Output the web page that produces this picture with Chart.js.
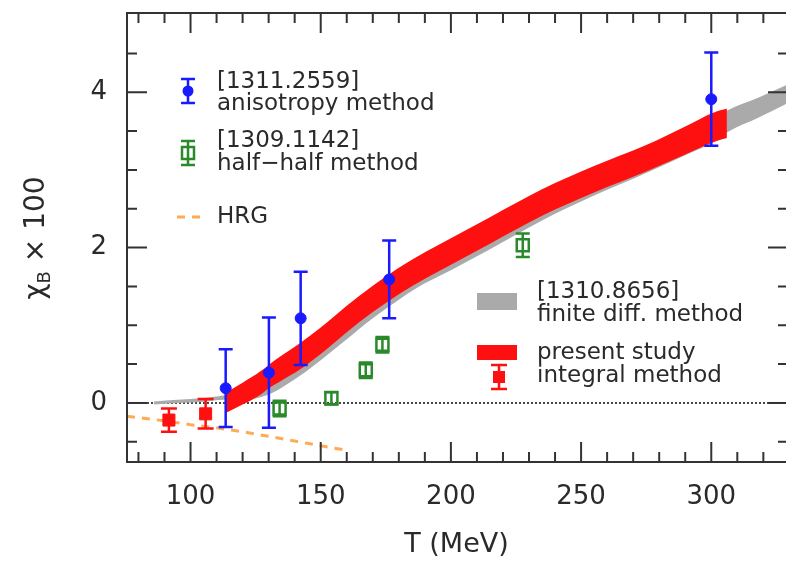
<!DOCTYPE html>
<html>
<head>
<meta charset="utf-8">
<script src="https://cdn.jsdelivr.net/npm/chart.js@4.4.0/dist/chart.umd.min.js"></script>
<style>
  html, body { margin: 0; padding: 0; background: #fff; }
  canvas { display: block; }
</style>
</head>
<body>
<canvas id="chiChart" width="786" height="566"></canvas>
<script>
// axis ranges and ticks
const xRange = [75.6, 328.7];
const yRange = [-0.76, 5.02];
const xMajorTicks = [100, 150, 200, 250, 300];
const yMajorTicks = [0, 2, 4];
const xMinorStep = 10;
const yMinorStep = 0.5;

// [1311.2559] anisotropy method
const anisoT = [113.5, 130.1, 142.3, 176.3, 300];
const anisoY = [0.19, 0.39, 1.09, 1.59, 3.91];
const anisoErr = [0.5, 0.71, 0.6, 0.5, 0.6];

// [1309.1142] half-half method
const halfT = [134.2, 154.1, 167.3, 173.7, 227.6];
const halfY = [-0.07, 0.06, 0.42, 0.75, 2.03];
const halfErr = [0.1, 0.08, 0.1, 0.1, 0.15];

// present study, integral method (points)
const integT = [91.7, 105.8];
const integY = [-0.22, -0.14];
const integErr = [0.15, 0.19];

// HRG
const hrgT = [75.6, 90, 100, 110, 120, 130, 140, 150, 160];
const hrgY = [-0.17, -0.23, -0.28, -0.32, -0.37, -0.43, -0.49, -0.55, -0.61];

// present study band
const bandT = [113.5, 120, 127, 130, 135, 142, 150, 160, 170, 180, 190, 200, 215, 235, 255, 275, 290, 301, 306];
const bandMid = [0.0, 0.12, 0.26, 0.34, 0.45, 0.6, 0.8, 1.08, 1.34, 1.57, 1.77, 1.95, 2.22, 2.58, 2.88, 3.15, 3.38, 3.55, 3.6];
const bandHalf = [0.13, 0.14, 0.15, 0.15, 0.16, 0.17, 0.17, 0.17, 0.17, 0.17, 0.17, 0.17, 0.17, 0.17, 0.17, 0.17, 0.18, 0.19, 0.19];

// [1310.8656] finite diff. method band
const fdT = [86, 95, 105, 113, 120, 130, 142, 150, 160, 170, 180, 190, 200, 215, 235, 255, 275, 290, 301, 306.5, 318, 328.7];
const fdMid = [0.0, 0.02, 0.04, 0.07, 0.1, 0.24, 0.5, 0.7, 0.97, 1.24, 1.48, 1.69, 1.86, 2.13, 2.5, 2.81, 3.1, 3.33, 3.5, 3.63, 3.8, 3.97];
const fdHalf = [0.02, 0.02, 0.025, 0.03, 0.06, 0.13, 0.15, 0.15, 0.15, 0.15, 0.15, 0.15, 0.15, 0.15, 0.15, 0.14, 0.14, 0.14, 0.14, 0.14, 0.13, 0.12];

const FONT = 'DejaVu Sans';
const INK = '#2a2a2a';
const BLUE = '#1a1aff';
const GREEN = '#2a8a2a';
const RED = '#ff1010';
const ORANGE = '#ffaa55';
const GRAY = '#aaaaaa';

const pts = (xs, ys) => xs.map((x, i) => ({ x: x, y: ys[i] }));

// error bars drawn through the chart scales
const errorBars = {
    id: 'errorBars',
    afterDatasetsDraw(chart) {
        const { ctx, scales: { x, y } } = chart;
        const sets = [
            { t: anisoT, v: anisoY, e: anisoErr, color: BLUE, cap: 7 },
            { t: halfT, v: halfY, e: halfErr, color: GREEN, cap: 7 },
            { t: integT, v: integY, e: integErr, color: RED, cap: 8 }
        ];
        ctx.save();
        ctx.lineWidth = 2.5;
        sets.forEach(s => {
            ctx.strokeStyle = s.color;
            s.t.forEach((t, i) => {
                const px = x.getPixelForValue(t);
                const top = y.getPixelForValue(s.v[i] + s.e[i]);
                const bot = y.getPixelForValue(s.v[i] - s.e[i]);
                ctx.beginPath();
                ctx.moveTo(px, top); ctx.lineTo(px, bot);
                ctx.moveTo(px - s.cap, top); ctx.lineTo(px + s.cap, top);
                ctx.moveTo(px - s.cap, bot); ctx.lineTo(px + s.cap, bot);
                ctx.stroke();
            });
        });
        ctx.restore();
    }
};

// frame with inward ticks on all sides (right edge falls off the canvas)
const frame = {
    id: 'frame',
    afterDraw(chart) {
        const { ctx, chartArea: a, scales: { x, y } } = chart;
        ctx.save();
        ctx.strokeStyle = '#333';
        ctx.lineWidth = 2;
        ctx.beginPath();
        ctx.moveTo(a.right + 2, a.top);
        ctx.lineTo(a.left, a.top);
        ctx.lineTo(a.left, a.bottom);
        ctx.lineTo(a.right + 2, a.bottom);
        ctx.stroke();
        ctx.beginPath();
        for (let t = Math.ceil(xRange[0] / xMinorStep) * xMinorStep; t < xRange[1]; t += xMinorStep) {
            const px = x.getPixelForValue(t);
            const len = xMajorTicks.includes(t) ? 20 : 10;
            ctx.moveTo(px, a.bottom); ctx.lineTo(px, a.bottom - len);
            ctx.moveTo(px, a.top); ctx.lineTo(px, a.top + len);
        }
        for (let v = Math.ceil(yRange[0] / yMinorStep) * yMinorStep; v < yRange[1]; v += yMinorStep) {
            const py = y.getPixelForValue(v);
            if (py < a.top + 3 || py > a.bottom - 3) continue;
            const len = yMajorTicks.includes(v) ? 20 : 10;
            ctx.moveTo(a.left, py); ctx.lineTo(a.left + len, py);
            ctx.moveTo(a.right + 2, py); ctx.lineTo(a.right + 2 - len, py);
        }
        ctx.stroke();

        // y title with subscript
        ctx.translate(37, 238);
        ctx.rotate(-Math.PI / 2);
        ctx.fillStyle = INK;
        ctx.textBaseline = 'middle';
        ctx.font = '28px "' + FONT + '"';
        const w1 = ctx.measureText('\u03c7').width;
        const w3 = ctx.measureText(' \u00d7 100').width;
        ctx.font = '18px "' + FONT + '"';
        const w2 = ctx.measureText('B').width;
        let sx = -(w1 + w2 + w3) / 2;
        ctx.font = '28px "' + FONT + '"';
        ctx.fillText('\u03c7', sx, 0);
        ctx.font = '18px "' + FONT + '"';
        ctx.fillText('B', sx + w1, 8);
        ctx.font = '28px "' + FONT + '"';
        ctx.fillText(' \u00d7 100', sx + w1 + w2, 0);
        ctx.restore();
    }
};

// legend drawn inside the plot
const legendBox = {
    id: 'legendBox',
    afterDraw(chart) {
        const ctx = chart.ctx;
        ctx.save();
        ctx.lineWidth = 2.5;
        const bar = (x, y, h, cap, color) => {
            ctx.strokeStyle = color;
            ctx.beginPath();
            ctx.moveTo(x, y - h); ctx.lineTo(x, y + h);
            ctx.moveTo(x - cap, y - h); ctx.lineTo(x + cap, y - h);
            ctx.moveTo(x - cap, y + h); ctx.lineTo(x + cap, y + h);
            ctx.stroke();
        };
        // blue
        bar(188, 91, 12, 7, BLUE);
        ctx.fillStyle = BLUE;
        ctx.beginPath(); ctx.arc(188, 91, 5.5, 0, Math.PI * 2); ctx.fill();
        // green
        bar(188, 153, 12, 7, GREEN);
        ctx.strokeStyle = GREEN;
        ctx.strokeRect(182, 147, 12, 12);
        // HRG
        ctx.strokeStyle = ORANGE;
        ctx.lineWidth = 3;
        ctx.setLineDash([8, 7]);
        ctx.beginPath(); ctx.moveTo(177, 217); ctx.lineTo(203, 217); ctx.stroke();
        ctx.setLineDash([]);
        ctx.lineWidth = 2.5;
        // finite diff
        ctx.fillStyle = GRAY;
        ctx.fillRect(477, 293, 40, 17);
        // present study
        ctx.fillStyle = RED;
        ctx.fillRect(477, 345, 40, 15);
        bar(499, 377, 12, 8, RED);
        ctx.fillRect(493, 371, 12, 12);

        ctx.fillStyle = INK;
        ctx.font = '23px "' + FONT + '"';
        ctx.textBaseline = 'middle';
        const lines = [
            ['[1311.2559]', 217, 82], ['anisotropy method', 217, 104],
            ['[1309.1142]', 217, 141], ['half\u2212half method', 217, 164],
            ['HRG', 217, 217],
            ['[1310.8656]', 537, 292], ['finite diff. method', 537, 315],
            ['present study', 537, 353], ['integral method', 537, 376]
        ];
        lines.forEach(l => ctx.fillText(l[0], l[1], l[2]));
        ctx.restore();
    }
};

const bandLine = {
    borderColor: 'transparent',
    borderWidth: 0,
    pointRadius: 0,
    tension: 0.4,
    cubicInterpolationMode: 'monotone'
};

new Chart(document.getElementById('chiChart'), {
    type: 'line',
    data: {
        datasets: [
            {
                label: 'zero',
                data: pts(xRange, [0, 0]),
                borderColor: '#444',
                borderWidth: 2,
                borderDash: [2, 2],
                pointRadius: 0,
                fill: false,
                order: 6
            },
            Object.assign({
                label: 'fd upper',
                data: pts(fdT, fdMid.map((m, i) => m + fdHalf[i])),
                fill: false,
                order: 5
            }, bandLine),
            Object.assign({
                label: '[1310.8656] finite diff. method',
                data: pts(fdT, fdMid.map((m, i) => m - fdHalf[i])),
                backgroundColor: GRAY,
                fill: '-1',
                order: 5
            }, bandLine),
            {
                label: 'HRG',
                data: pts(hrgT, hrgY),
                borderColor: ORANGE,
                borderWidth: 3,
                borderDash: [8, 7],
                pointRadius: 0,
                fill: false,
                order: 4
            },
            Object.assign({
                label: 'band upper',
                data: pts(bandT, bandMid.map((m, i) => m + bandHalf[i])),
                fill: false,
                order: 3
            }, bandLine),
            Object.assign({
                label: 'present study',
                data: pts(bandT, bandMid.map((m, i) => m - bandHalf[i])),
                backgroundColor: RED,
                fill: '-1',
                order: 3
            }, bandLine),
            {
                label: '[1311.2559] anisotropy method',
                data: pts(anisoT, anisoY),
                showLine: false,
                pointStyle: 'circle',
                pointRadius: 5.5,
                pointBackgroundColor: BLUE,
                pointBorderColor: BLUE,
                order: 0
            },
            {
                label: '[1309.1142] half-half method',
                data: pts(halfT, halfY),
                showLine: false,
                pointStyle: 'rect',
                pointRadius: 8.5,
                pointBackgroundColor: 'rgba(0,0,0,0)',
                pointBorderColor: GREEN,
                pointBorderWidth: 2.5,
                order: 0
            },
            {
                label: 'integral method',
                data: pts(integT, integY),
                showLine: false,
                pointStyle: 'rect',
                pointRadius: 8.5,
                pointBackgroundColor: RED,
                pointBorderColor: RED,
                order: 0
            }
        ]
    },
    options: {
        responsive: false,
        animation: false,
        layout: { autoPadding: false, padding: { top: 13, right: 0, bottom: 0, left: 0 } },
        plugins: {
            legend: { display: false },
            tooltip: { enabled: false }
        },
        scales: {
            x: {
                type: 'linear',
                min: xRange[0],
                max: xRange[1],
                afterBuildTicks: s => { s.ticks = xMajorTicks.map(v => ({ value: v })); },
                afterFit: s => {
                    s.height = 104;
                    s.paddingLeft = 0;
                    s.paddingRight = 0;
                },
                grid: { display: false, drawTicks: false },
                border: { display: false },
                ticks: {
                    color: INK,
                    padding: 20,
                    maxRotation: 0,
                    autoSkip: false,
                    font: { family: FONT, size: 26 }
                },
                title: {
                    display: true,
                    text: 'T (MeV)',
                    color: INK,
                    padding: { top: 5, bottom: 5 },
                    font: { family: FONT, size: 27 }
                }
            },
            y: {
                type: 'linear',
                min: yRange[0],
                max: yRange[1],
                afterBuildTicks: s => { s.ticks = yMajorTicks.map(v => ({ value: v })); },
                afterFit: s => {
                    s.width = 127;
                    s.paddingTop = 0;
                    s.paddingBottom = 0;
                },
                grid: { display: false, drawTicks: false },
                border: { display: false },
                ticks: {
                    color: INK,
                    padding: 20,
                    font: { family: FONT, size: 26 }
                }
            }
        }
    },
    plugins: [errorBars, frame, legendBox]
});
</script>
</body>
</html>
